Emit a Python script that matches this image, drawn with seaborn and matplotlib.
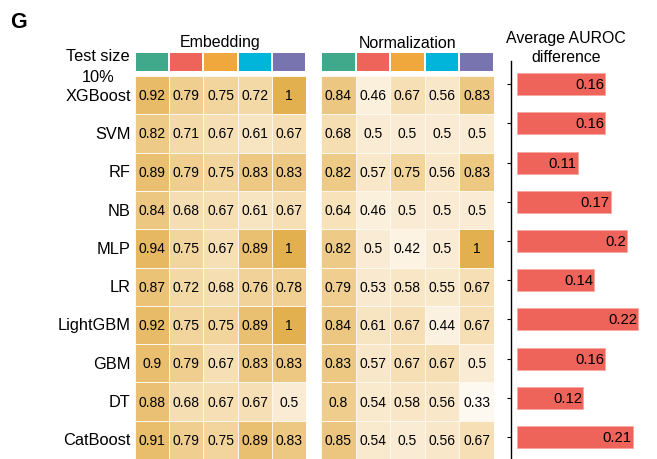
import numpy as np
import pandas as pd
import seaborn as sns
import matplotlib.pyplot as plt
from matplotlib.colors import LinearSegmentedColormap, ListedColormap

models = ["XGBoost", "SVM", "RF", "NB", "MLP", "LR", "LightGBM", "GBM", "DT", "CatBoost"]
methods = ["m1", "m2", "m3", "m4", "m5"]
method_colors = ["#40a98c", "#ee645a", "#f0a83c", "#00b5d9", "#7774b0"]

embedding = [
    [0.92, 0.79, 0.75, 0.72, 1],
    [0.82, 0.71, 0.67, 0.61, 0.67],
    [0.89, 0.79, 0.75, 0.83, 0.83],
    [0.84, 0.68, 0.67, 0.61, 0.67],
    [0.94, 0.75, 0.67, 0.89, 1],
    [0.87, 0.72, 0.68, 0.76, 0.78],
    [0.92, 0.75, 0.75, 0.89, 1],
    [0.9, 0.79, 0.67, 0.83, 0.83],
    [0.88, 0.68, 0.67, 0.67, 0.5],
    [0.91, 0.79, 0.75, 0.89, 0.83],
]
normalization = [
    [0.84, 0.46, 0.67, 0.56, 0.83],
    [0.68, 0.5, 0.5, 0.5, 0.5],
    [0.82, 0.57, 0.75, 0.56, 0.83],
    [0.64, 0.46, 0.5, 0.5, 0.5],
    [0.82, 0.5, 0.42, 0.5, 1],
    [0.79, 0.53, 0.58, 0.55, 0.67],
    [0.84, 0.61, 0.67, 0.44, 0.67],
    [0.83, 0.57, 0.67, 0.67, 0.5],
    [0.8, 0.54, 0.58, 0.56, 0.33],
    [0.85, 0.54, 0.5, 0.56, 0.67],
]
auroc_diff = [0.16, 0.16, 0.11, 0.17, 0.2, 0.14, 0.22, 0.16, 0.12, 0.21]

plt.rcParams['font.family'] = ['Liberation Sans', 'DejaVu Sans']

cmap = LinearSegmentedColormap.from_list("cream", ["#fdf8f0", "#f6dfb4", "#e3b04f"])
strip_cmap = ListedColormap(method_colors)

fig = plt.figure(figsize=(6.57, 4.6), dpi=100)

W, H = 657.0, 460.0
def box(x0, y0, x1, y1):
    return [x0 / W, 1 - y1 / H, (x1 - x0) / W, (y1 - y0) / H]

# heatmaps + colour strips
panels = [("Embedding", embedding, 135, 306), ("Normalization", normalization, 321, 494)]
for i, (title, vals, x0, x1) in enumerate(panels):
    df = pd.DataFrame(vals, index=models, columns=methods)
    ax = fig.add_axes(box(x0, 77, x1, 460))
    sns.heatmap(df, ax=ax, cmap=cmap, vmin=0.35, vmax=1, annot=True, fmt="g",
                annot_kws={"fontsize": 10, "color": "black"},
                linewidths=0.6, linecolor="#fdf7ee", cbar=False)
    ax.set_xticks([])
    ax.set_xlabel("")
    ax.set_ylabel("")
    if i == 0:
        ax.set_yticklabels(models, rotation=0, fontsize=11.8)
        ax.tick_params(axis="y", length=0, pad=3)
    else:
        ax.set_yticks([])

    sax = fig.add_axes(box(x0, 53, x1, 73))
    sns.heatmap(pd.DataFrame([range(5)], columns=methods), ax=sax, cmap=strip_cmap,
                vmin=-0.5, vmax=4.5, linewidths=1.2, linecolor="white", cbar=False)
    sax.set_xticks([])
    sax.set_yticks([])
    sax.set_xlabel("")
    sax.set_ylabel("")
    fig.text((x0 + x1) / 2 / W, 1 - 43 / H, title, ha="center", va="center", fontsize=11.5)

# bar panel
bax = fig.add_axes(box(511, 62, 657, 460))
bar_df = pd.DataFrame({"model": models, "diff": auroc_diff})
sns.barplot(data=bar_df, x="diff", y="model", ax=bax, color="#ee645a",
            saturation=1, width=0.56, edgecolor="#f7a9a1", linewidth=0.6)
bax.set_xlim(-0.011, 0.2545)
bax.set_ylim(9.56, -0.59)
for j, v in enumerate(auroc_diff):
    bax.text(v - 0.002, j, f"{v:g}", ha="right", va="center", fontsize=10.7)
bax.set_xticks([])
bax.set_yticklabels([])
bax.set_xlabel("")
bax.set_ylabel("")
bax.tick_params(axis="y", length=3, width=0.8)
for s in ["top", "right", "bottom"]:
    bax.spines[s].set_visible(False)
bax.spines["left"].set_linewidth(1.0)
bax.patch.set_alpha(0)

fig.text(566 / W, 1 - 48 / H, "Average AUROC\ndifference", ha="center", va="center",
         fontsize=11.4, linespacing=1.3)
fig.text(98 / W, 1 - 67 / H, "Test size\n10%", ha="center", va="center",
         fontsize=11.8, linespacing=1.45)
fig.text(10 / W, 1 - 22 / H, "G", ha="left", va="center", fontsize=15.5, fontweight="bold")

fig.savefig("out.png", dpi=100)
